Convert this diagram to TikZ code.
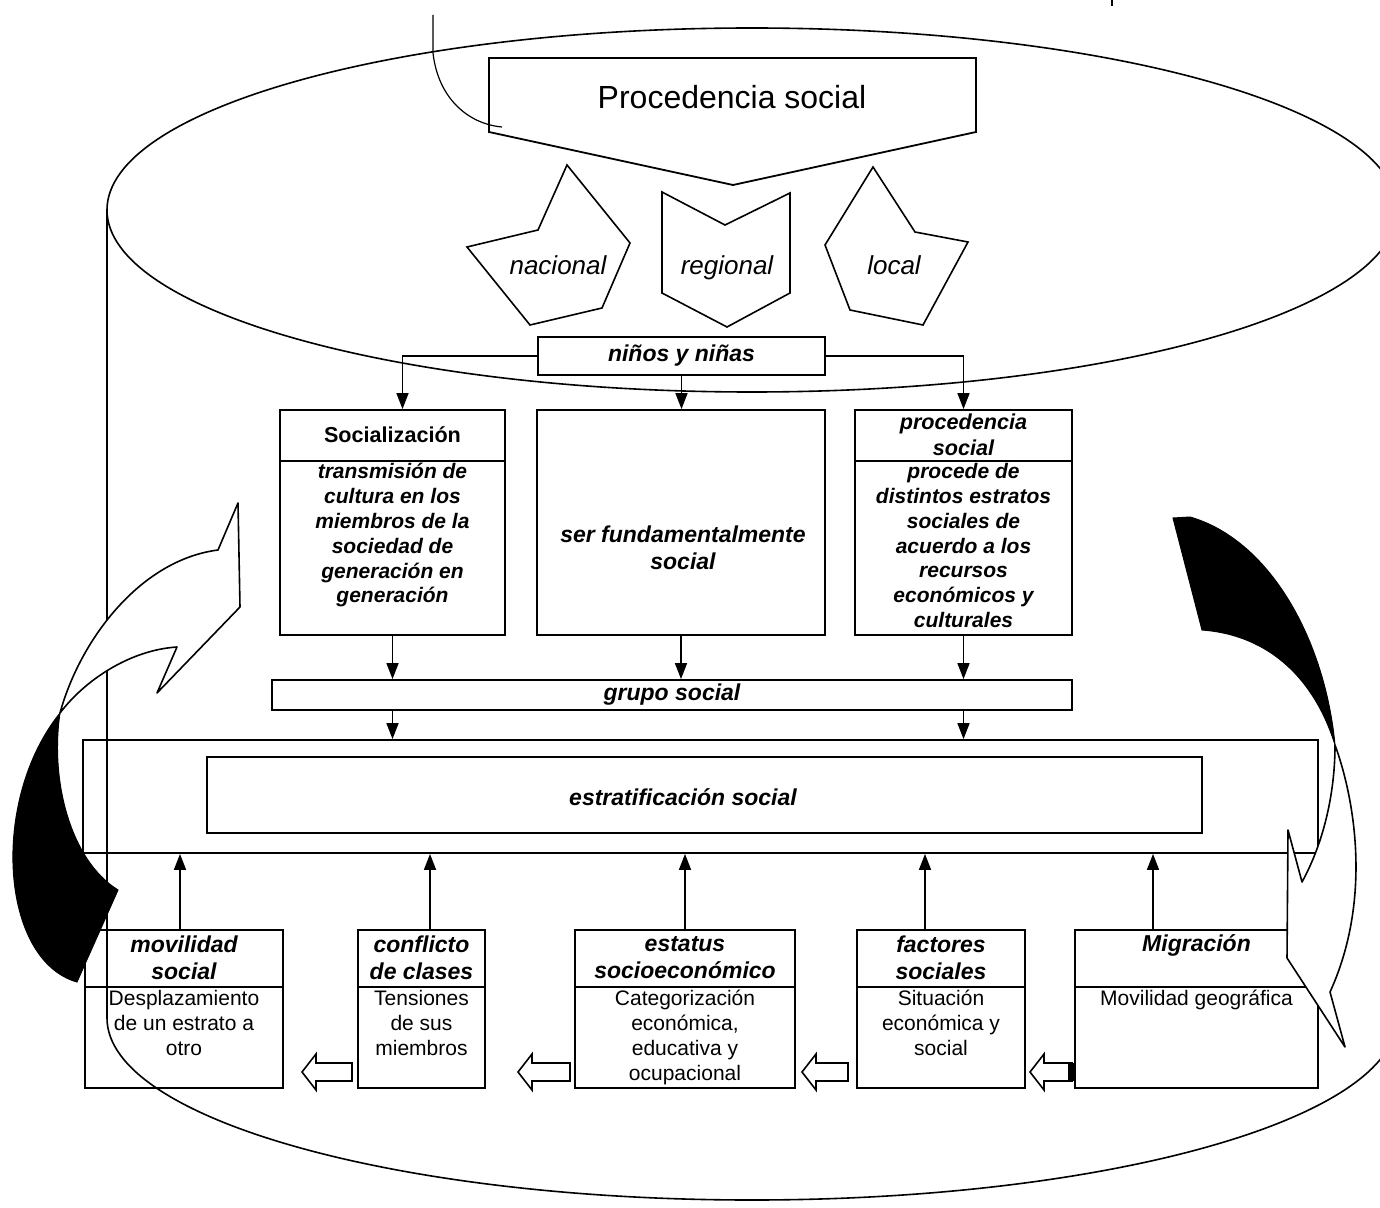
\documentclass[tikz,border=0pt]{standalone}
\usepackage{fontspec}
\setmainfont{Liberation Sans}
\usetikzlibrary{arrows.meta}
\newcommand{\blockarrow}[2]{%
  \draw[hollowarr] (#1,1072) -- (#1+14,1054) -- (#1+14,1063) -- (#2,1063) -- (#2,1081) -- (#1+14,1081) -- (#1+14,1090) -- cycle;}
\begin{document}
\begin{tikzpicture}[x=0.5pt,y=-0.5pt,
  cyl/.style={line width=0.8pt},
  box/.style={draw, line width=0.9pt, inner sep=0pt},
  divider/.style={line width=0.9pt},
  arr/.style={line width=0.8pt, -{Triangle[width=6pt,length=8pt]}},
  hd/.style={font=\bfseries\itshape\fontsize{11.5}{13.5}\selectfont, align=center, inner sep=0pt},
  mhd/.style={font=\bfseries\itshape\fontsize{10.8}{13}\selectfont, align=center, inner sep=0pt},
  mbody/.style={font=\bfseries\itshape\fontsize{10.5}{12.4}\selectfont, align=center, inner sep=0pt, anchor=north},
  bbody/.style={font=\fontsize{10.5}{12.5}\selectfont, align=center, inner sep=0pt, anchor=north},
  penta/.style={draw, line width=0.8pt, line join=miter},
  ptxt/.style={font=\itshape\fontsize{13}{15}\selectfont, inner sep=0pt},
  ribbon/.style={draw, line width=0.8pt, fill=white, line join=round},
  dark/.style={fill=black, draw=black, line width=0.5pt},
  hollowarr/.style={draw, line width=0.8pt, fill=white, line join=miter}
]
\useasboundingbox (0,0) rectangle (1380,1208);

% ---- cylinder ----
\begin{scope}
  \clip (0,0) rectangle (1380,1208);
  \draw[cyl] (752,210) ellipse [x radius=322.5pt, y radius=91pt];
  \draw[cyl] (107,210) -- (107,1018) arc [start angle=180, end angle=360, x radius=322.5pt, y radius=91pt] -- (1397,210);
\end{scope}

% small marks at the top
\coordinate (m1) at (433,15);
\coordinate (m2) at (433,53);
\coordinate (m3) at (502,127);
\draw[line width=0.6pt] (m1) -- (m2) .. controls (438,98) and (468,124) .. (m3);
\draw[line width=1pt] (1112,0) -- (1112,6);

% ---- Procedencia social (down pointing pentagon) ----
\draw[penta, line width=0.9pt] (489,58) -- (976,58) -- (976,132) -- (733,185) -- (489,132) -- cycle;
\node[font=\fontsize{16}{18}\selectfont, inner sep=0pt] (ps) at (732,97) {Procedencia social};

% ---- three shapes ----
\draw[penta] (567,165) -- (630,243) -- (602,308) -- (530,325) -- (467,247) -- (538,230) -- cycle;
\node[ptxt] (nac) at (558,265) {nacional};
\draw[penta] (662,192) -- (725,225) -- (790,193) -- (790,293) -- (727,327) -- (662,293) -- cycle;
\node[ptxt] (reg) at (727,268) {regional};
\draw[penta] (873,167) -- (915,232) -- (968,242) -- (923,325) -- (850,310) -- (825,245) -- cycle;
\node[ptxt] (loc) at (894,265) {local};

% ---- niños y niñas ----
\node[box, hd, minimum width=143.5pt, minimum height=19pt] (nn) at (681.5,356) {niños y niñas};

% ---- middle boxes ----
\node[box, minimum width=112.5pt, minimum height=112.5pt] (soc) at (392.5,522.5) {};
\draw[divider] ([yshift=-26pt]soc.north west) -- ([yshift=-26pt]soc.north east);
\node[font=\bfseries\fontsize{10.8}{13}\selectfont, inner sep=0pt] (sochd) at ([yshift=-13pt]soc.north) {Socialización};
\node[mbody] (socbd) at ([yshift=-27pt]soc.north) {transmisión de\\cultura en los\\miembros de la\\sociedad de\\generación en\\generación};

\node[box, minimum width=144pt, minimum height=112.5pt] (ser) at (681,522.5) {};
\node[hd] (sertx) at (683,548) {ser fundamentalmente\\social};

\node[box, minimum width=108.5pt, minimum height=112.5pt] (proc) at (963.5,522.5) {};
\draw[divider] ([yshift=-26pt]proc.north west) -- ([yshift=-26pt]proc.north east);
\node[mhd] (prochd) at ([yshift=-13pt]proc.north) {procedencia\\social};
\node[mbody] (procbd) at ([yshift=-27pt]proc.north) {procede de\\distintos estratos\\sociales de\\acuerdo a los\\recursos\\económicos y\\culturales};

% ---- grupo social ----
\node[box, hd, minimum width=400pt, minimum height=15pt] (gs) at (672,695) {grupo social};

% ---- estratificación social ----
\node[box, minimum width=617.5pt, minimum height=56.5pt] (eo) at (700.5,796.5) {};
\node[box, line width=1pt, minimum width=497.5pt, minimum height=38pt] (ei) at (704.5,795) {};
\node[hd] (et) at (683,797) {estratificación social};

% ---- bottom boxes ----
\node[box, minimum width=99pt, minimum height=79pt] (mov) at (184,1009) {};
\node[box, minimum width=63.5pt, minimum height=79pt] (con) at (421.5,1009) {};
\node[box, minimum width=110pt, minimum height=79pt] (est) at (685,1009) {};
\node[box, minimum width=84pt, minimum height=79pt] (fac) at (941,1009) {};
\node[box, minimum width=121.5pt, minimum height=79pt] (mig) at (1196.5,1009) {};
\foreach \b in {mov,con,est,fac,mig}
  \draw[divider] ([yshift=-29pt]\b.north west) -- ([yshift=-29pt]\b.north east);

\node[hd] (movhd) at ([yshift=-14.5pt]mov.north) {movilidad\\social};
\node[hd] (conhd) at ([yshift=-14.5pt]con.north) {conflicto\\de clases};
\node[hd] (esthd) at ([yshift=-14.5pt]est.north) {estatus\\socioeconómico};
\node[hd] (fachd) at ([yshift=-14.5pt]fac.north) {factores\\sociales};
\node[hd] (mighd) at ([yshift=-8pt]mig.north) {Migración};

\node[bbody] (movbd) at ([yshift=-30.5pt]mov.north) {Desplazamiento\\de un estrato a\\otro};
\node[bbody] (conbd) at ([yshift=-30.5pt]con.north) {Tensiones\\de sus\\miembros};
\node[bbody] (estbd) at ([yshift=-30.5pt]est.north) {Categorización\\económica,\\educativa y\\ocupacional};
\node[bbody] (facbd) at ([yshift=-30.5pt]fac.north) {Situación\\económica y\\social};
\node[bbody] (migbd) at ([yshift=-30.5pt]mig.north) {Movilidad geográfica};

% ---- connectors ----
\draw[arr] (nn.west) -| ([xshift=5pt]soc.north);
\draw[arr] (nn.east) -| (proc.north);
\draw[arr] (nn.south) -- (nn.south |- ser.north);
\draw[arr] (soc.south) -- (soc.south |- gs.north);
\draw[arr] (ser.south) -- (ser.south |- gs.north);
\draw[arr] (proc.south) -- (proc.south |- gs.north);
\draw[arr] (soc.south |- gs.south) -- (soc.south |- eo.north);
\draw[arr] (proc.south |- gs.south) -- (proc.south |- eo.north);
\draw[arr] ([xshift=-2pt]mov.north) -- ([xshift=-2pt]mov.north |- eo.south);
\draw[arr] ([xshift=4.25pt]con.north) -- ([xshift=4.25pt]con.north |- eo.south);
\draw[arr] (est.north) -- (est.north |- eo.south);
\draw[arr] ([xshift=-8pt]fac.north) -- ([xshift=-8pt]fac.north |- eo.south);
\draw[arr] ([xshift=-21.75pt]mig.north) -- ([xshift=-21.75pt]mig.north |- eo.south);

% ---- hollow block arrows (pointing left) ----
\blockarrow{302}{352}
\blockarrow{518}{570}
\blockarrow{802}{848}
\blockarrow{1030}{1072}
\fill (1068,1063) rectangle (1075,1081);

% ---- left curved arrow ----
\draw[dark] (60,713) .. controls (50,780) and (70,860) .. (118,890) -- (77,982) .. controls (0,960) and (-10,800) .. (60,713) -- cycle;
\draw[ribbon] (60,713) .. controls (80,640) and (140,560) .. (218,550) -- (238,503) -- (240,607) -- (157,693) -- (177,647) .. controls (130,650) and (85,680) .. (60,713) -- cycle;

% ---- right curved arrow ----
\draw[dark] (1173,518) -- (1190,517) .. controls (1270,540) and (1325,640) .. (1335,745) .. controls (1315,680) and (1270,635) .. (1202,630) -- cycle;
\draw[ribbon] (1335,745) .. controls (1355,800) and (1372,900) .. (1330,992) -- (1345,1047) -- (1287,958) -- (1288,830) -- (1302,882) .. controls (1325,840) and (1335,790) .. (1335,745) -- cycle;

\end{tikzpicture}
\end{document}
